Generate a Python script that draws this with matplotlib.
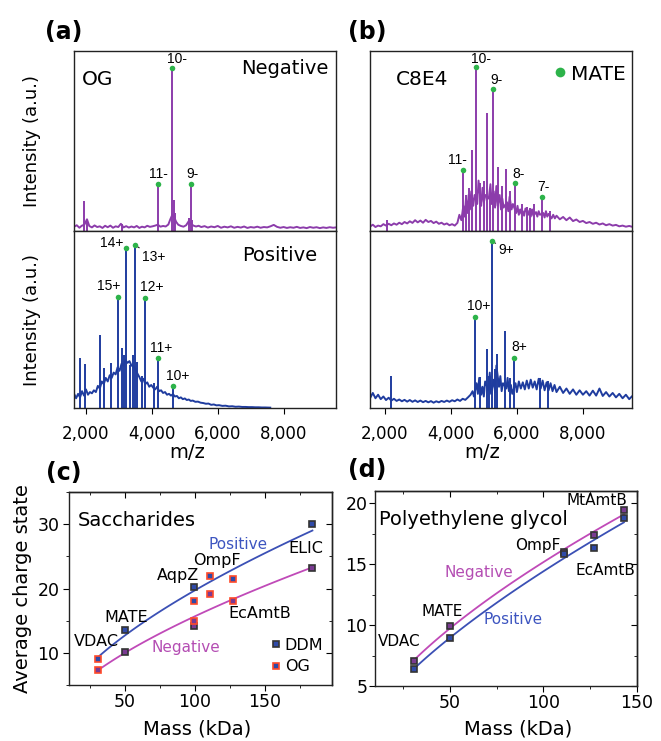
import matplotlib
matplotlib.use('Agg')
import matplotlib.pyplot as plt
import numpy as np
from matplotlib.ticker import MultipleLocator, NullFormatter
from matplotlib.lines import Line2D

# ---------------- spectra (m/z, relative intensity) ----------------
# (a) OG, negative mode
a_neg_base_mz = [1650, 1720, 1800, 1870, 1950, 2030, 2100, 2180, 2260, 2340,
                 2420, 2500, 2580, 2660, 2740, 2820, 2900, 2980, 3060, 3140,
                 3220, 3300, 3380, 3460, 3540, 3620, 3700, 3780, 3860, 3940,
                 4020, 4100, 4180, 4260, 4340, 4420, 4500, 4560, 4620, 4680,
                 4740, 4800, 4880, 4960, 5040, 5120, 5190, 5260, 5340, 5420,
                 5500, 5600, 5700, 5800, 5900, 6000, 6100, 6200, 6300, 6400,
                 6500, 6600, 6700, 6800, 6900, 7000, 7100, 7200, 7300, 7400,
                 7500, 7600, 7700, 7800, 7900, 8000, 8100, 8200, 8300, 8400,
                 8500, 8600, 8700, 8800, 8900, 9000, 9100, 9200, 9300, 9400,
                 9500, 9590]
a_neg_base_int = [2.5, 3.2, 1.8, 2.9, 3.5, 6.5, 2.8, 2.0, 3.1, 2.2,
                  2.6, 1.7, 2.9, 2.1, 3.0, 1.8, 2.6, 2.2, 4.0, 2.0,
                  2.7, 1.9, 2.5, 2.0, 2.8, 1.7, 2.4, 2.0, 2.9, 2.3,
                  2.6, 3.0, 3.5, 2.4, 2.8, 2.5, 3.6, 6.5, 9.0, 7.5,
                  5.0, 3.5, 2.8, 2.4, 3.2, 5.5, 4.0, 3.0, 2.5, 2.9,
                  2.2, 2.7, 1.9, 2.5, 2.1, 2.8, 1.8, 2.4, 2.0, 2.6,
                  1.8, 2.3, 1.9, 2.5, 1.7, 2.2, 1.9, 2.4, 1.8, 2.2,
                  2.0, 2.6, 3.4, 2.3, 1.8, 2.2, 1.7, 2.1, 1.8, 2.3,
                  1.7, 2.0, 1.6, 2.2, 1.8, 2.1, 1.6, 2.0, 1.7, 2.1,
                  1.8, 2.0]
a_neg_peak_mz = [1939, 2040, 3083, 4660, 4700, 5140, 5230]
a_neg_peak_int = [16.8, 6.0, 4.0, 17.0, 10.0, 7.0, 6.0]
a_neg_ion_mz = [4185, 4619, 5187]
a_neg_ion_int = [26.0, 90.3, 26.0]
a_neg_ion_lab = ['11-', '10-', '9-']

# (a) OG, positive mode
a_pos_base_mz = [1657, 1700, 1760, 1820, 1880, 1940, 2000, 2060, 2120, 2180,
                 2240, 2300, 2360, 2420, 2480, 2540, 2600, 2660, 2720, 2780,
                 2840, 2900, 2960, 3020, 3080, 3140, 3200, 3260, 3320, 3380,
                 3440, 3500, 3560, 3620, 3680, 3740, 3800, 3860, 3920, 3980,
                 4040, 4100, 4160, 4220, 4280, 4340, 4400, 4460, 4520, 4580,
                 4640, 4700, 4760, 4820, 4880, 4940, 5000, 5060, 5120, 5180,
                 5240, 5320, 5400, 5480, 5560, 5640, 5720, 5800, 5880, 5960,
                 6040, 6140, 6240, 6340, 6440, 6540, 6640, 6740, 6840, 6940,
                 7040, 7140, 7240, 7340, 7440, 7594]
a_pos_base_int = [7.3, 5.5, 8.0, 6.0, 9.5, 7.0, 10.5, 7.5, 9.0, 8.3,
                  10.0, 9.0, 12.5, 11.0, 15.0, 13.5, 17.0, 15.0, 18.5, 17.0,
                  20.0, 19.0, 23.0, 21.0, 25.0, 24.0, 27.0, 25.5, 26.5, 24.0,
                  23.5, 22.0, 19.5, 17.5, 15.0, 16.5, 13.5, 14.5, 12.0, 13.0,
                  11.5, 10.5, 12.0, 9.5, 10.0, 8.5, 9.0, 7.5, 8.0, 7.0,
                  7.8, 6.5, 6.8, 5.5, 6.0, 5.0, 5.4, 4.5, 4.8, 4.0,
                  4.2, 3.5, 3.6, 3.0, 2.8, 2.4, 2.5, 1.8, 2.0, 1.5,
                  1.6, 1.2, 1.3, 0.9, 1.0, 0.7, 0.8, 0.6, 0.6, 0.5,
                  0.5, 0.4, 0.4, 0.3, 0.3, 0.2]
a_pos_peak_mz = [1827, 1979, 2435, 2537, 2768, 3093, 3150, 3345, 3420, 3560, 3700, 4050]
a_pos_peak_int = [28.4, 24.7, 41.2, 22.4, 25.2, 33.7, 30.0, 24.3, 30.0, 26.0, 18.0, 14.0]
a_pos_ion_mz = [2971, 3214, 3478, 3800, 4185, 4631]
a_pos_ion_int = [62.9, 90.6, 92.1, 62.0, 28.0, 12.4]
a_pos_ion_lab = ['15+', '14+', '13+', '12+', '11+', '10+']

# (b) C8E4, negative mode
b_neg_base_mz = [1560, 1640, 1720, 1800, 1880, 1960, 2040, 2120, 2200, 2280,
                 2360, 2440, 2520, 2600, 2680, 2760, 2840, 2920, 3000, 3080,
                 3160, 3240, 3320, 3400, 3480, 3560, 3640, 3720, 3800, 3880,
                 3960, 4040, 4120, 4200, 4260, 4320, 4380, 4420, 4460, 4500,
                 4540, 4580, 4620, 4680, 4720, 4800, 4840, 4920, 4960, 5000,
                 5050, 5150, 5200, 5240, 5300, 5340, 5380, 5420, 5480, 5520,
                 5560, 5600, 5700, 5740, 5780, 5840, 5880, 5980, 6020, 6060,
                 6100, 6140, 6180, 6220, 6260, 6340, 6380, 6420, 6460, 6500,
                 6580, 6620, 6660, 6700, 6800, 6840, 6880, 6920, 6960, 7050,
                 7100, 7150, 7200, 7300, 7400, 7500, 7600, 7700, 7800, 7900,
                 8000, 8100, 8200, 8300, 8400, 8500, 8600, 8700, 8800, 8900,
                 9000, 9100, 9200, 9300, 9400, 9480]
b_neg_base_int = [2.5, 3.5, 2.2, 3.0, 2.6, 3.8, 3.0, 4.0, 3.2, 4.2,
                  3.5, 4.6, 3.8, 5.0, 4.2, 5.4, 4.5, 6.0, 4.8, 5.8,
                  4.6, 6.2, 5.0, 5.6, 4.4, 5.2, 4.0, 4.6, 3.6, 4.2,
                  3.2, 3.8, 3.0, 4.5, 9.0, 6.0, 14.0, 8.0, 18.0, 10.0,
                  20.0, 12.0, 22.0, 14.0, 20.0, 15.0, 28.0, 14.0, 24.0, 16.0,
                  20.0, 18.0, 26.0, 15.0, 22.0, 13.0, 25.0, 14.0, 20.0, 12.0,
                  18.0, 13.0, 16.0, 11.0, 19.0, 12.0, 15.0, 10.0, 14.0, 9.0,
                  12.0, 9.5, 11.0, 8.5, 12.5, 9.0, 11.5, 8.0, 12.0, 8.5,
                  10.5, 8.0, 11.0, 9.0, 10.0, 7.5, 11.0, 8.0, 9.5, 7.0,
                  9.0, 7.0, 8.5, 6.5, 7.8, 6.0, 7.5, 5.5, 6.4, 5.0,
                  5.6, 4.4, 5.0, 4.0, 4.6, 3.6, 4.2, 3.2, 3.8, 3.0,
                  3.4, 2.6, 3.0, 2.4, 2.8, 2.4]
b_neg_peak_mz = [2079, 4470, 4560, 4633, 4884, 5010, 5105, 5180, 5438, 5560,
                 5661, 5792, 6150, 6297, 6400, 6527, 7002]
b_neg_peak_int = [6.0, 20.0, 24.0, 45.0, 26.5, 28.0, 65.7, 22.0, 35.7, 25.0,
                  34.3, 22.0, 15.0, 13.5, 13.0, 15.0, 11.3]
b_neg_ion_mz = [4360, 4763, 5268, 5943, 6751]
b_neg_ion_int = [33.9, 90.9, 78.9, 26.5, 18.7]
b_neg_ion_lab = ['11-', '10-', '9-', '8-', '7-']

# (b) C8E4, positive mode
b_pos_base_mz = [1570, 1640, 1720, 1800, 1880, 1960, 2040, 2120, 2200, 2280,
                 2360, 2440, 2520, 2600, 2680, 2760, 2840, 2920, 3000, 3080,
                 3160, 3240, 3320, 3400, 3480, 3560, 3640, 3720, 3800, 3880,
                 3960, 4040, 4120, 4200, 4280, 4360, 4440, 4520, 4600, 4660,
                 4700, 4780, 4820, 4860, 4920, 4960, 5000, 5040, 5140, 5180,
                 5220, 5300, 5340, 5380, 5460, 5500, 5540, 5580, 5680, 5720,
                 5760, 5820, 5860, 5960, 6000, 6060, 6120, 6180, 6240, 6300,
                 6360, 6420, 6480, 6540, 6600, 6660, 6720, 6780, 6840, 6900,
                 6960, 7020, 7080, 7140, 7200, 7300, 7400, 7500, 7600, 7700,
                 7800, 7900, 8000, 8100, 8200, 8300, 8400, 8500, 8600, 8700,
                 8800, 8900, 9000, 9100, 9200, 9300, 9400, 9480]
b_pos_base_int = [6.0, 8.5, 5.5, 7.5, 5.0, 6.5, 4.5, 5.8, 4.2, 5.2,
                  4.0, 4.8, 3.8, 4.6, 3.6, 4.5, 3.5, 4.3, 3.4, 4.2,
                  3.3, 4.0, 3.2, 3.9, 3.0, 3.8, 3.2, 4.0, 3.4, 4.2,
                  3.5, 4.4, 3.8, 4.8, 4.0, 5.2, 4.6, 6.0, 7.5, 9.5,
                  6.5, 14.0, 8.0, 17.0, 7.5, 12.0, 6.5, 15.0, 10.0, 20.0,
                  8.0, 16.0, 9.0, 24.0, 12.0, 18.0, 9.5, 14.0, 11.0, 17.0,
                  9.5, 13.0, 8.0, 14.0, 9.0, 15.0, 11.0, 14.5, 10.5, 15.5,
                  11.0, 16.0, 11.5, 15.0, 10.5, 16.5, 11.0, 15.5, 10.0, 14.5,
                  10.0, 14.0, 9.5, 13.0, 9.0, 12.0, 8.5, 11.0, 8.0, 10.5,
                  7.5, 10.0, 7.5, 9.5, 7.0, 9.8, 7.0, 11.0, 6.8, 9.0,
                  6.5, 8.5, 6.0, 8.0, 5.5, 7.5, 5.0, 6.5]
b_pos_peak_mz = [2181, 4874, 5096, 5150, 5330, 5408, 5631, 5782, 6700, 6950]
b_pos_peak_int = [18.3, 17.3, 33.3, 18.0, 22.0, 30.5, 43.7, 17.0, 17.0, 15.0]
b_pos_ion_mz = [4742, 5256, 5913]
b_pos_ion_int = [51.2, 94.2, 28.2]
b_pos_ion_lab = ['10+', '9+', '8+']

mz_ticks = [2000, 4000, 6000, 8000]
mz_tick_labels = ['2,000', '4,000', '6,000', '8,000']

# ---------------- average charge state vs mass ----------------
# (c) saccharide detergents
c_mass_ddm = [50, 99, 184]
c_z_ddm_pos = [13.6, 20.2, 30.1]
c_z_ddm_neg = [10.2, 14.2, 23.2]
c_mass_og = [31, 99, 111, 127]
c_z_og_pos = [9.1, 18.1, 22.0, 21.4]
c_z_og_neg = [7.3, 15.0, 19.1, 18.1]
c_names = ['VDAC', 'MATE', 'AqpZ', 'OmpF', 'EcAmtB', 'ELIC']

# (d) polyethylene glycol detergents
d_mass = [31, 50, 111, 127, 143]
d_z_neg = [7.07, 9.93, 16.0, 17.4, 19.45]
d_z_pos = [6.43, 8.97, 15.8, 16.3, 18.8]
d_names = ['VDAC', 'MATE', 'OmpF', 'EcAmtB', 'MtAmtB']

# colours
purple = '#8c3cab'
navy = '#1f3c9f'
green = '#2db34a'
blue_fit = '#3b50b5'
mag_fit = '#c04ab8'
blue_txt = '#3d55c0'
mag_txt = '#b44db3'
pos_face = '#2f4aa8'
neg_face = '#7a3a92'

plt.rcParams['font.family'] = 'DejaVu Sans'
plt.rcParams['axes.edgecolor'] = '#222222'
plt.rcParams['axes.linewidth'] = 1.0

W, H = 661, 741
fig = plt.figure(figsize=(W / 100, H / 100), dpi=100)


def box(l, t, r, b):
    # axes rectangle from pixel edges (top-left origin)
    return [l / W, 1 - b / H, (r - l) / W, (b - t) / H]


def spectrum(ax, base_mz, base_int, peak_mz, peak_int, ion_mz, ion_int, ion_lab,
             offsets, color, xlim, leaders=()):
    ax.vlines(peak_mz + ion_mz, 0, peak_int + ion_int, color=color, lw=1.4)
    ax.plot(base_mz, base_int, color=color, lw=1.4)
    ax.plot(ion_mz, ion_int, 'o', color=green, ms=4, mec='none', zorder=5)
    for i, (x, y, s) in enumerate(zip(ion_mz, ion_int, ion_lab)):
        ap = None
        if i in leaders:
            ap = dict(arrowstyle='-', lw=0.8, color='#222222', shrinkA=0, shrinkB=2)
        ax.annotate(s, (x, y), xytext=offsets[i], textcoords='offset points',
                    ha='center', va='center', fontsize=10, family='Liberation Sans',
                    arrowprops=ap)
    ax.set_xlim(xlim)
    ax.set_ylim(0, 100)
    ax.set_yticks([])


xlim_a = (1636, 9590)
xlim_b = (1555, 9485)

# (a) top / bottom
ax = fig.add_axes(box(74, 51, 336, 231))
spectrum(ax, a_neg_base_mz, a_neg_base_int, a_neg_peak_mz, a_neg_peak_int,
         a_neg_ion_mz, a_neg_ion_int, a_neg_ion_lab,
         [(0.7, 7.5), (3.5, 6.5), (1.2, 7.5)], purple, xlim_a)
ax.set_xticks([])
ax.text(0.03, 0.84, 'OG', transform=ax.transAxes, fontsize=14.5, va='center')
ax.text(0.97, 0.90, 'Negative', transform=ax.transAxes, fontsize=14, va='center', ha='right')

ax = fig.add_axes(box(74, 231, 336, 408))
spectrum(ax, a_pos_base_mz, a_pos_base_int, a_pos_peak_mz, a_pos_peak_int,
         a_pos_ion_mz, a_pos_ion_int, a_pos_ion_lab,
         [(-6.7, 7.5), (-10.6, 3.5), (13.7, -8.4), (4.8, 8.4), (2.4, 7.7), (3.4, 6.9)],
         navy, xlim_a, leaders=(2,))
ax.set_xticks(mz_ticks, mz_tick_labels)
ax.tick_params(axis='x', direction='out', length=4, pad=8, labelsize=12)
ax.text(0.93, 0.864, 'Positive', transform=ax.transAxes, fontsize=14, va='center', ha='right')

# (b) top / bottom
ax = fig.add_axes(box(370, 51, 632, 231))
spectrum(ax, b_neg_base_mz, b_neg_base_int, b_neg_peak_mz, b_neg_peak_int,
         b_neg_ion_mz, b_neg_ion_int, b_neg_ion_lab,
         [(-3.8, 7.5), (3.4, 6.2), (2.9, 6.2), (2.4, 6.8), (1.2, 7.7)], purple, xlim_b)
ax.set_xticks([])
ax.text(0.10, 0.84, 'C8E4', transform=ax.transAxes, fontsize=14.5, va='center')
ax.legend([Line2D([], [], marker='o', ls='', color=green, ms=7, mec='none')], ['MATE'],
          loc='upper right', bbox_to_anchor=(0.975, 0.925), frameon=False,
          fontsize=14.5, handlelength=0.6, handletextpad=0.25,
          borderpad=0, borderaxespad=0)

ax = fig.add_axes(box(370, 231, 632, 408))
spectrum(ax, b_pos_base_mz, b_pos_base_int, b_pos_peak_mz, b_pos_peak_int,
         b_pos_ion_mz, b_pos_ion_int, b_pos_ion_lab,
         [(2.6, 8.4), (10.0, -6.2), (4.1, 8.2)], navy, xlim_b, leaders=(1,))
ax.set_xticks(mz_ticks, mz_tick_labels)
ax.tick_params(axis='x', direction='out', length=4, pad=8, labelsize=12)


def px_text(x, y, s, **kw):
    fig.text(x / W, 1 - y / H, s, ha='center', va='center', **kw)


px_text(187, 452, 'm/z', fontsize=14)
px_text(482, 452, 'm/z', fontsize=14)
px_text(32, 141, 'Intensity (a.u.)', fontsize=13, rotation=90)
px_text(32, 320, 'Intensity (a.u.)', fontsize=13, rotation=90)
for lab, x, y in [('(a)', 64, 32), ('(b)', 367, 32), ('(c)', 64, 473), ('(d)', 367, 470)]:
    px_text(x, y, lab, fontsize=17, fontweight='bold')


def power_fit(m, z):
    b, a = np.polyfit(np.log(m), np.log(z), 1)
    mm = np.linspace(min(m), max(m), 100)
    return mm, np.exp(a) * mm ** b


def frame_ticks(ax, xmaj, xmin, ymaj, ymin, lsize, ypad):
    ax.xaxis.set_major_locator(MultipleLocator(xmaj))
    ax.xaxis.set_minor_locator(MultipleLocator(xmin))
    ax.yaxis.set_major_locator(MultipleLocator(ymaj))
    ax.yaxis.set_minor_locator(MultipleLocator(ymin))
    ax.tick_params(which='major', direction='out', length=4, labelsize=lsize)
    ax.tick_params(which='minor', direction='out', length=2.5)
    ax.tick_params(axis='y', pad=ypad)
    ax.tick_params(axis='x', pad=2)
    sx = ax.secondary_xaxis('top')
    sy = ax.secondary_yaxis('right')
    for sec, axis in [(sx, sx.xaxis), (sy, sy.yaxis)]:
        axis.set_major_locator(MultipleLocator(xmaj if sec is sx else ymaj))
        axis.set_minor_locator(MultipleLocator(xmin if sec is sx else ymin))
        axis.set_major_formatter(NullFormatter())
        sec.tick_params(which='major', direction='in', length=4)
        sec.tick_params(which='minor', direction='in', length=2.5)


# (c)
ax = fig.add_axes(box(69, 492, 332, 685))
all_m = c_mass_ddm + c_mass_og
mm, zz = power_fit(all_m, c_z_ddm_pos + c_z_og_pos)
ax.plot(mm, zz, color=blue_fit, lw=1.3)
mm, zz = power_fit(all_m, c_z_ddm_neg + c_z_og_neg)
ax.plot(mm, zz, color=mag_fit, lw=1.3)
sq = dict(marker='s', ls='', ms=4.5, mew=1.2)
h_ddm, = ax.plot(c_mass_ddm, c_z_ddm_pos, mfc=pos_face, mec='#333333', **sq)
ax.plot(c_mass_ddm, c_z_ddm_neg, mfc=neg_face, mec='#333333', **sq)
h_og, = ax.plot(c_mass_og, c_z_og_pos, mfc=pos_face, mec='#ff4a2a', **sq)
ax.plot(c_mass_og, c_z_og_neg, mfc=neg_face, mec='#ff4a2a', **sq)
ax.set_xlim(10, 198)
ax.set_ylim(5, 35)
frame_ticks(ax, 50, 25, 10, 5, 12.5, 3)
ax.legend([h_ddm, h_og], ['DDM', 'OG'], loc='upper left', bbox_to_anchor=(0.772, 0.244),
          frameon=False, fontsize=11.5, handlelength=0.5, handletextpad=0.3,
          labelspacing=0.4, borderpad=0, borderaxespad=0)
ax.text(16.5, 30.6, 'Saccharides', fontsize=14, va='center')
for s, x, y in zip(c_names, [29.6, 50.7, 87.8, 115.7, 146, 179.6],
                   [11.7, 15.5, 22.0, 24.4, 16.1, 26.2]):
    ax.text(x, y, s, fontsize=11.5, ha='center', va='center')
ax.text(130.6, 26.8, 'Positive', color=blue_txt, fontsize=11, ha='center', va='center')
ax.text(93.5, 10.8, 'Negative', color=mag_txt, fontsize=11, ha='center', va='center')
ax.set_ylabel('Average charge state', fontsize=14, labelpad=4)
px_text(197, 729, 'Mass (kDa)', fontsize=14)

# (d)
ax = fig.add_axes(box(375, 491, 637, 686))
mm, zz = power_fit(d_mass, d_z_neg)
ax.plot(mm, zz, color=mag_fit, lw=1.3)
mm, zz = power_fit(d_mass, d_z_pos)
ax.plot(mm, zz, color=blue_fit, lw=1.3)
ax.plot(d_mass, d_z_neg, mfc=neg_face, mec='#333333', **sq)
ax.plot(d_mass, d_z_pos, mfc=pos_face, mec='#333333', **sq)
ax.set_xlim(10, 150)
ax.set_ylim(5, 21)
frame_ticks(ax, 50, 25, 5, 2.5, 12.5, 1.5)
ax.text(12.3, 18.7, 'Polyethylene glycol', fontsize=14, va='center')
for s, x, y in zip(d_names, [23, 45.7, 97, 133, 128.8],
                   [8.64, 11.1, 16.55, 14.5, 20.2]):
    ax.text(x, y, s, fontsize=11, ha='center', va='center')
ax.text(65.7, 14.35, 'Negative', color=mag_txt, fontsize=11, ha='center', va='center')
ax.text(83.75, 10.43, 'Positive', color=blue_txt, fontsize=11, ha='center', va='center')
px_text(518, 729, 'Mass (kDa)', fontsize=14)

fig.savefig('out.png', dpi=100)
